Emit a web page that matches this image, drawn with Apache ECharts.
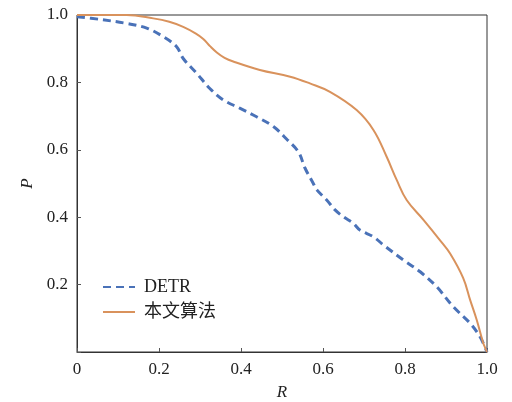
<!DOCTYPE html>
<html>
<head>
<meta charset="utf-8">
<script src="https://cdn.jsdelivr.net/npm/echarts@6/dist/echarts.min.js"></script>
<style>html,body{margin:0;padding:0;background:#fff}#c{width:512px;height:402px}</style>
</head>
<body>
<div id="c"></div>
<script>
var seriesNames = ['DETR', '本文算法'];
var detrR = [0, 0.056, 0.121, 0.170, 0.210, 0.243, 0.259, 0.292, 0.324, 0.357, 0.398, 0.438, 0.479, 0.511, 0.540, 0.556, 0.576, 0.585, 0.609, 0.630, 0.650, 0.674, 0.690, 0.723, 0.747, 0.796, 0.837, 0.877, 0.918, 0.959, 0.983, 1.0];
var detrP = [0.995, 0.987, 0.975, 0.961, 0.936, 0.906, 0.871, 0.827, 0.782, 0.748, 0.723, 0.698, 0.669, 0.632, 0.594, 0.546, 0.501, 0.481, 0.451, 0.421, 0.401, 0.382, 0.362, 0.342, 0.318, 0.273, 0.238, 0.194, 0.134, 0.085, 0.045, 0.0];
var oursR = [0, 0.121, 0.186, 0.225, 0.259, 0.290, 0.308, 0.325, 0.341, 0.360, 0.381, 0.446, 0.520, 0.568, 0.617, 0.682, 0.723, 0.755, 0.780, 0.804, 0.845, 0.885, 0.910, 0.942, 0.959, 0.975, 0.991, 1.0];
var oursP = [1.0, 1.0, 0.990, 0.980, 0.965, 0.945, 0.929, 0.907, 0.889, 0.873, 0.862, 0.837, 0.817, 0.797, 0.772, 0.718, 0.659, 0.580, 0.510, 0.451, 0.392, 0.332, 0.292, 0.219, 0.154, 0.095, 0.026, 0.0];

function pairs(xs, ys) { return xs.map(function (x, i) { return [x, ys[i]]; }); }
var serif = '"Liberation Serif", "Times New Roman", serif';
var chart = echarts.init(document.getElementById('c'));
chart.setOption({
  animation: false,
  backgroundColor: '#fff',
  grid: { left: 77, right: 25, top: 15, bottom: 50, show: true, borderColor: '#333', borderWidth: 1,
    backgroundColor: 'transparent', containLabel: false, outerBoundsMode: 'none' },
  legend: {
    left: 97, top: 273, orient: 'vertical', itemGap: 7, itemWidth: 32, itemHeight: 14,
    itemStyle: { opacity: 0 },
    textStyle: { fontFamily: '"Liberation Serif", "Noto Sans CJK SC", serif', fontSize: 18, color: '#222', padding: [0, 0, 0, 4] },
    data: [seriesNames[0], seriesNames[1]]
  },
  xAxis: {
    type: 'value', min: 0, max: 1, interval: 0.2,
    name: 'R', nameLocation: 'middle', nameGap: 32,
    nameTextStyle: { fontFamily: serif, fontStyle: 'italic', fontSize: 17, color: '#222' },
    axisLine: { show: true, lineStyle: { color: '#333' } },
    axisTick: { show: true, inside: true, length: 4, lineStyle: { color: '#555' } },
    splitLine: { show: false },
    axisLabel: { fontFamily: serif, fontSize: 17, color: '#222', margin: 9,
      formatter: function (v) { return v === 0 ? '0' : v.toFixed(1); } }
  },
  yAxis: {
    type: 'value', min: 0, max: 1, interval: 0.2,
    name: 'P', nameLocation: 'middle', nameGap: 41,
    nameTextStyle: { fontFamily: serif, fontStyle: 'italic', fontSize: 17, color: '#222' },
    axisLine: { show: true, lineStyle: { color: '#333' } },
    axisTick: { show: true, inside: true, length: 4, lineStyle: { color: '#555' } },
    splitLine: { show: false },
    axisLabel: { fontFamily: serif, fontSize: 17, color: '#222', margin: 9,
      formatter: function (v) { return v === 0 ? '' : v.toFixed(1); } }
  },
  series: [
    { name: seriesNames[0], type: 'line', smooth: 0.35, symbol: 'none', data: pairs(detrR, detrP),
      lineStyle: { type: [8, 5], width: 3, color: '#4A72B8' }, itemStyle: { color: '#4A72B8' } },
    { name: seriesNames[1], type: 'line', smooth: 0.4, symbol: 'none', data: pairs(oursR, oursP),
      lineStyle: { width: 2, color: '#D9925C' }, itemStyle: { color: '#D9925C' } }
  ]
});
</script>
</body>
</html>
